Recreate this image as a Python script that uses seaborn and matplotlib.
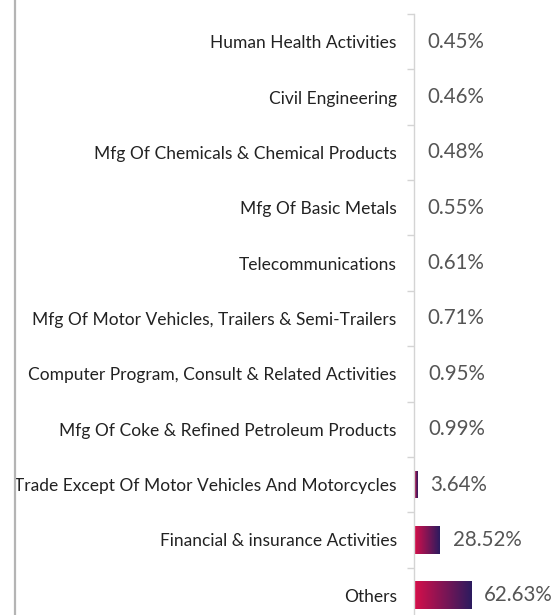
import numpy as np
import pandas as pd
import matplotlib
matplotlib.use("Agg")
import matplotlib.pyplot as plt
import seaborn as sns
from matplotlib.colors import LinearSegmentedColormap
from matplotlib.lines import Line2D

sectors = [
    "Human Health Activities",
    "Civil Engineering",
    "Mfg Of Chemicals & Chemical Products",
    "Mfg Of Basic Metals",
    "Telecommunications",
    "Mfg Of Motor Vehicles, Trailers & Semi-Trailers",
    "Computer Program, Consult & Related Activities",
    "Mfg Of Coke & Refined Petroleum Products",
    "Trade Except Of Motor Vehicles And Motorcycles",
    "Financial & insurance Activities",
    "Others",
]
shares = [0.45, 0.46, 0.48, 0.55, 0.61, 0.71, 0.95, 0.99, 3.64, 28.52, 62.63]

sns.set_theme(style="white")
plt.rcParams['font.family'] = ['Lato', 'DejaVu Sans']

df = pd.DataFrame({'sector': sectors, 'share': shares})

fig = plt.figure(figsize=(5.57, 6.15), dpi=100)
ax = fig.add_axes([414 / 557, -8 / 615, 143 / 557, 609 / 615])

sns.barplot(data=df, x='share', y='sector', orient='h', ax=ax,
            width=0.5, color='#d81048', saturation=1)

# gradient fill, crimson -> indigo, clipped to each bar
cmap = LinearSegmentedColormap.from_list('grad', ['#d80f4a', '#2b1b5f'])
grad = np.linspace(0, 1, 256).reshape(1, -1)
for p in list(ax.patches):
    x0, y0 = p.get_x(), p.get_y()
    w, h = p.get_width(), p.get_height()
    im = ax.imshow(grad, cmap=cmap, extent=[x0, x0 + w, y0 + h, y0],
                   aspect='auto', zorder=2, interpolation='bilinear')
    im.set_clip_path(p)
    p.set_facecolor('none')
    p.set_edgecolor('none')

for i, v in enumerate(shares):
    ax.annotate(f"{v:.2f}%", xy=(v, i), xytext=(9.5, 0), textcoords='offset points',
                va='center', ha='left', fontsize=14.8, color='#555555')

ax.set_xlim(0, 157)
ax.set_ylim(len(sectors) - 0.5, -0.5)
ax.set_xlabel('')
ax.set_ylabel('')
ax.set_xticks([])

for s in ['top', 'right', 'bottom']:
    ax.spines[s].set_visible(False)
ax.spines['left'].set_color('#d4d4d4')
ax.spines['left'].set_linewidth(1)

ax.set_yticks(np.arange(-0.5, len(sectors), 1.0), minor=True)
ax.tick_params(axis='y', which='major', length=0, pad=12.5,
               labelsize=12.5, labelcolor='#222222')
ax.tick_params(axis='y', which='minor', length=5, width=1, color='#d4d4d4', left=True)

fig.add_artist(Line2D([14.5 / 557, 14.5 / 557], [0, 1], transform=fig.transFigure,
                      color='#b4b4b4', lw=1.6))

fig.savefig('out.png', dpi=100)
